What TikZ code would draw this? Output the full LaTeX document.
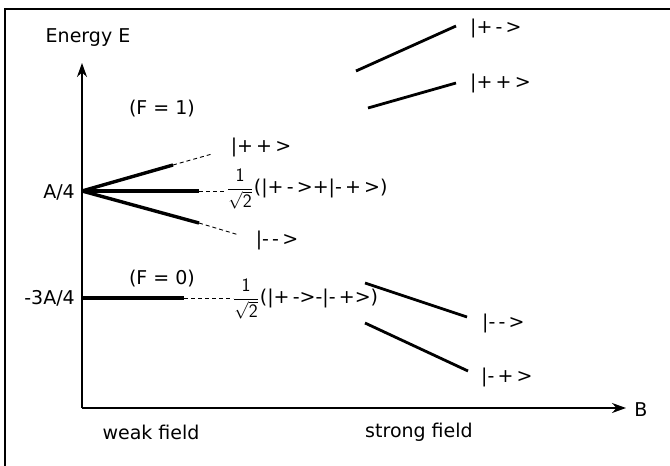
\documentclass[tikz,border=0pt]{standalone}
\usepackage{fontspec}
\setmainfont{DejaVu Sans}
\usepackage{amsmath}
\usetikzlibrary{positioning,arrows.meta}
\begin{document}
\begin{tikzpicture}[x=1pt,y=-1pt,>={Stealth[length=14pt,width=10pt]},
  font=\fontsize{19}{21}\selectfont,
  axis/.style={line width=1.8pt},
  level/.style={line width=3.4pt},
  lvlthin/.style={line width=2.8pt},
  guide/.style={line width=0.9pt,dash pattern=on 4pt off 3pt},
  ket/.style={inner sep=0pt}]
\useasboundingbox (0,0) rectangle (670,466);
% frame (left and top only)
\draw[line width=1.6pt] (5,466) -- (5,9) -- (670,9);
% axes
\coordinate (O) at (82,408);
\coordinate (Etip) at (82,63);
\coordinate (Btip) at (626,408);
\draw[axis,->] (O) -- (Etip);
\draw[axis,->] (O) -- (Btip);
\node (Elab) at (88,38) {Energy E};
\node (Blab) at (641,410) {B};
\node[ket,anchor=east] (A1) at (75,192) {A/4};
\node[ket,anchor=east] (A0) at (75,298) {-3A/4};
\node (F1) at (162,109) {(F = 1)};
\node (F0) at (162,279) {(F = 0)};
% weak field: F=1 triplet
\coordinate (fan) at (82,191);
\coordinate (up1) at (173,165);   \coordinate (up2) at (212,154);
\coordinate (mid1) at (199,191);  \coordinate (mid2) at (224,191);
\coordinate (low1) at (199,223);  \coordinate (low2) at (239,235);
\foreach \a/\b in {up1/up2,mid1/mid2,low1/low2} {
  \draw[level] (fan) -- (\a);
  \draw[guide] (\a) -- (\b);
}
\node[ket] (kpp) at (261,147) {|+\,+\,>};
\node[ket,anchor=west] (ksym) at (227,189) {$\dfrac{\mathsf{1}}{\sqrt{\mathsf{2}}}$\kern1pt(|+\,-\,>+|-\,+\,>)};
\node[ket] (kmm) at (277,240) {|-\,-\,>};
% weak field: F=0 singlet
\coordinate (s0) at (82,298);
\coordinate (s1) at (184,298);
\coordinate (s2) at (233,298);
\draw[level] (s0) -- (s1);
\draw[guide] (s1) -- (s2);
\node[ket,anchor=west] (kanti) at (233,299) {$\dfrac{\mathsf{1}}{\sqrt{\mathsf{2}}}$\kern1pt(|+\,->-|-\,+>)};
% strong field levels
\foreach \n/\x/\y/\u/\v/\lx/\ly/\txt in {
  a/356/71/456/26/470/28/{|+\,-\,>},
  b/368/108/456/83/470/83/{|+\,+\,>},
  c/365/283/467/317/482/323/{|-\,-\,>},
  d/365/323/468/371/481/377/{|-\,+\,>}} {
  \coordinate (\n0) at (\x,\y);
  \coordinate (\n1) at (\u,\v);
  \draw[lvlthin] (\n0) -- (\n1);
  \node[ket,anchor=west] (k\n) at (\lx,\ly) {\txt};
}
\node (weak) at (151,432) {weak field};
\node (strong) at (419,432) {strong field};
\end{tikzpicture}
\end{document}
